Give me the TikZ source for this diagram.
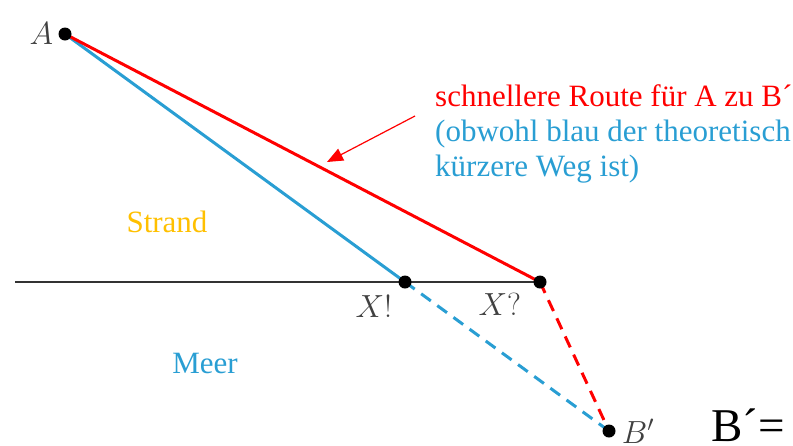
\RequirePackage{fix-cm}
\documentclass[tikz,border=0pt]{standalone}
\usepackage{fontspec}
\setmainfont{Liberation Serif}
\usetikzlibrary{positioning,arrows.meta}
\definecolor{routeRed}{HTML}{FF0000}
\definecolor{routeBlue}{RGB}{41,158,211}
\definecolor{strandOrange}{RGB}{255,192,0}
\definecolor{labelGray}{RGB}{64,64,64}

\begin{document}
\begin{tikzpicture}[x=1pt, y=-1pt,
  dot/.style={circle, fill=black, inner sep=0pt, minimum size=13pt},
  pointlabel/.style={inner sep=0pt, text=labelGray, font=\fontsize{32}{38}\selectfont},
  route/.style={line width=3pt},
  searoute/.style={route, dash pattern=on 12pt off 8pt},
  word/.style={inner sep=0pt, font=\fontsize{31}{35}\selectfont},
]
  \useasboundingbox (0,0) rectangle (793,445);
  \coordinate (A) at (65,34);
  \coordinate (Xbang) at (405,282);
  \coordinate (Xq) at (540,282);
  \coordinate (B) at (609,431);
  \coordinate (shore) at (15,282);

  \draw[line width=1.5pt, black!80] (shore) -- (Xq);
  \draw[route, routeBlue] (A) -- (Xbang);
  \draw[searoute, routeBlue] (Xbang) -- (B);
  \draw[route, routeRed] (A) -- (Xq);
  \draw[searoute, routeRed] (Xq) -- (B);

  \node[dot] (dA) at (A) {};
  \node[dot] (dXbang) at (Xbang) {};
  \node[dot] (dXq) at (Xq) {};
  \node[dot] (dB) at (B) {};

  \node[pointlabel, left=5pt of dA] {$A$};
  \node[pointlabel, below left=8pt and 8pt of dXbang] {$X!$};
  \node[pointlabel, below left=6pt and 14pt of dXq] {$X?$};
  \node[pointlabel, right=6pt of dB] {$B'$};

  \node[word, align=left, anchor=north west] (note) at (435,84)
    {\textcolor{routeRed}{schnellere Route für A zu B´}\\
     \textcolor{routeBlue}{(obwohl blau der theoretisch}\\
     \textcolor{routeBlue}{kürzere Weg ist)}};
  \coordinate (tipStart) at (415,116);
  \coordinate (tipEnd) at (327,162);
  \draw[-{Triangle[length=16pt,width=13pt]}, routeRed, line width=1.2pt] (tipStart) -- (tipEnd);

  \node[word, text=strandOrange] (strand) at (167,222) {Strand};
  \node[word, text=routeBlue] (meer) at (205,363) {Meer};

  \node[inner sep=0pt, anchor=base west, font=\fontsize{47}{56}\selectfont] (bprime) at (711,441) {B´=};
\end{tikzpicture}
\end{document}
